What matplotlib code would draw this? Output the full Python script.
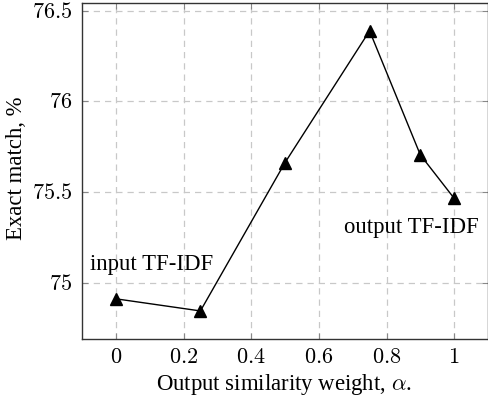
import matplotlib
matplotlib.use("Agg")
import matplotlib.pyplot as plt

# data
alpha = [0, 0.25, 0.5, 0.75, 0.9, 1.0]
exact_match = [74.91, 74.843, 75.662, 76.39, 75.705, 75.465]
x_ticks = [0, 0.2, 0.4, 0.6, 0.8, 1]
x_tick_labels = [r"$0$", r"$0.2$", r"$0.4$", r"$0.6$", r"$0.8$", r"$1$"]
y_ticks = [75, 75.5, 76, 76.5]
y_tick_labels = [r"$75$", r"$75.5$", r"$76$", r"$76.5$"]

plt.rcParams['font.family'] = ['Liberation Serif', 'DejaVu Serif']
plt.rcParams['mathtext.fontset'] = 'cm'
plt.rcParams['font.size'] = 16

W, H = 488, 398
fig = plt.figure(figsize=(W / 100, H / 100), dpi=100)
ax = fig.add_axes([82 / W, 1 - 339 / H, 406 / W, 336 / H])

ax.plot(alpha, exact_match, color='black', linewidth=1.0,
        marker='^', markersize=9, markerfacecolor='black', zorder=3)

ax.set_xlim(-0.1, 1.1)
ax.set_ylim(74.688, 76.544)
ax.set_xticks(x_ticks)
ax.set_xticklabels(x_tick_labels)
ax.set_yticks(y_ticks)
ax.set_yticklabels(y_tick_labels)

ax.grid(True, color='#c8c8c8', linestyle=(0, (5, 4)), linewidth=0.9)
ax.tick_params(direction='in', top=True, right=True, length=4,
               color='#888888', labelsize=16, pad=7)
for s in ax.spines.values():
    s.set_color('#333333')
    s.set_linewidth(1.0)

ax.text(0.106, 75.068, "input TF-IDF", ha='center', va='baseline', fontsize=16.4)
ax.text(0.873, 75.276, "output TF-IDF", ha='center', va='baseline', fontsize=16.4)

fig.text(283.5 / W, 1 - 390 / H, r"Output similarity weight, $\alpha$.",
         ha='center', va='baseline', fontsize=16.4)
fig.text(17 / W, 1 - 168 / H, "Exact match, %", rotation=90,
         ha='center', va='center', fontsize=16.4)

fig.savefig("out.png", dpi=100)
